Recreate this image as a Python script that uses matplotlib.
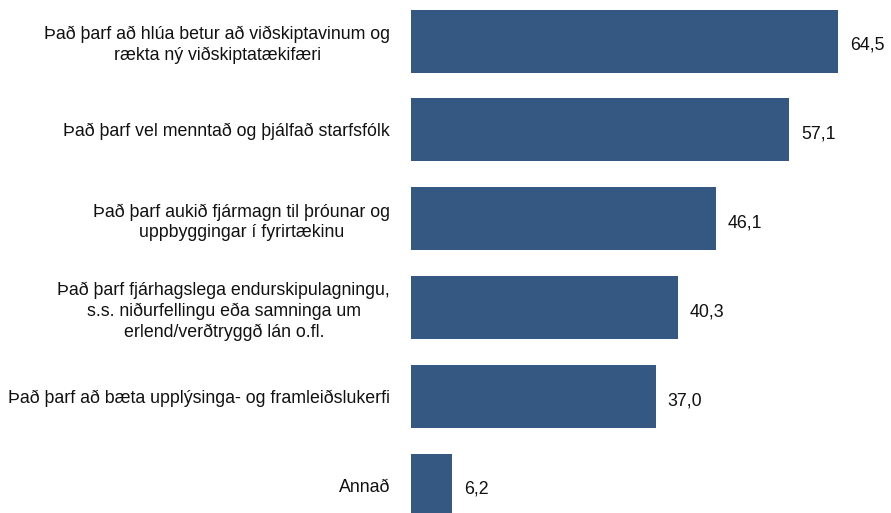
import matplotlib.pyplot as plt

plt.rcParams['font.family'] = ['Liberation Sans', 'DejaVu Sans']

categories = [
    "Það þarf að hlúa betur að viðskiptavinum og\nrækta ný viðskiptatækifæri",
    "Það þarf vel menntað og þjálfað starfsfólk",
    "Það þarf aukið fjármagn til þróunar og\nuppbyggingar í fyrirtækinu",
    "Það þarf fjárhagslega endurskipulagningu,\ns.s. niðurfellingu eða samninga um\nerlend/verðtryggð lán o.fl.",
    "Það þarf að bæta upplýsinga- og framleiðslukerfi",
    "Annað",
]
values = [64.5, 57.1, 46.1, 40.3, 37.0, 6.2]

fig = plt.figure(figsize=(8.91, 5.13), dpi=100)
ax = fig.add_axes([411 / 891, 0, 1 - 411 / 891, 1])

ypos = list(range(len(values)))
ax.barh(ypos, values, height=0.71, color='#355883')
ax.set_xlim(0, 480 / 6.62)
ax.set_ylim(5.315, -0.462)

for y, v in zip(ypos, values):
    ax.text(v + 1.8, y + 0.05, f"{v:.1f}".replace('.', ','), va='center', ha='left',
            fontsize=12.8, color='#111111')

ax.set_yticks(ypos)
ax.set_yticklabels(categories, fontsize=12.8, color='#111111', linespacing=1.28)
for lbl in ax.get_yticklabels():
    lbl.set_multialignment('center')
ax.tick_params(axis='y', length=0, pad=15)
ax.set_xticks([])
for s in ax.spines.values():
    s.set_visible(False)

fig.savefig('out.png', dpi=100)
